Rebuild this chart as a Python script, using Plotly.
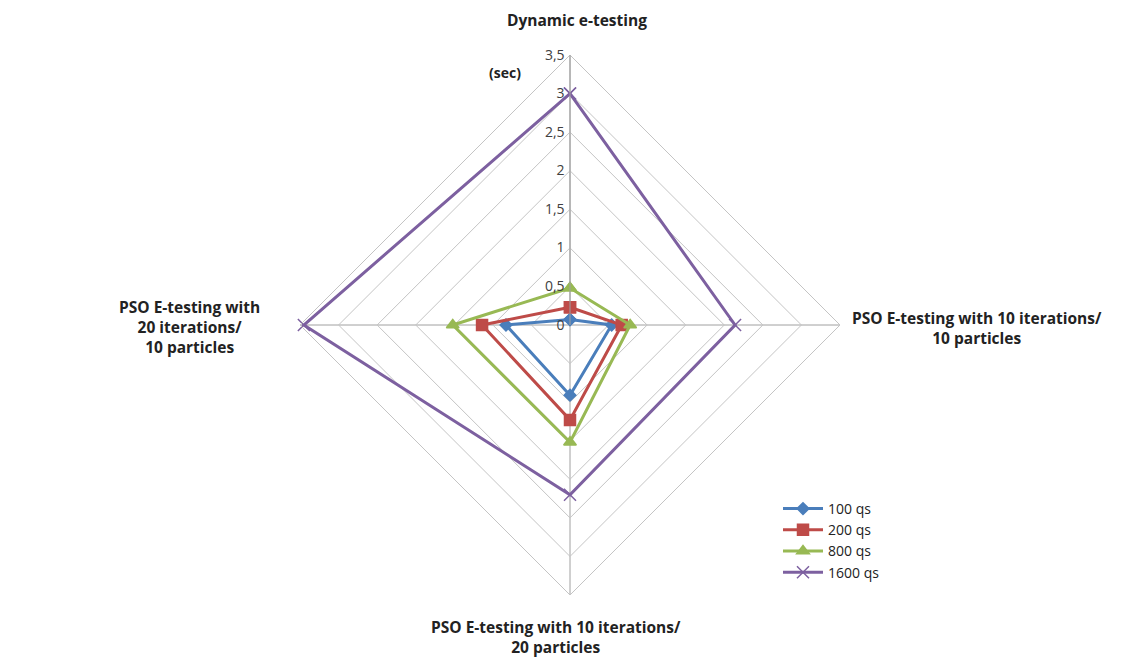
import plotly.graph_objects as go

categories = ["Dynamic e-testing", "PSO 10it/10p", "PSO 10it/20p", "PSO 20it/10p"]
series_names = ["100 qs", "200 qs", "800 qs", "1600 qs"]
v100 = [0.07, 0.54, 0.91, 0.83]
v200 = [0.23, 0.67, 1.23, 1.14]
v800 = [0.48, 0.78, 1.52, 1.52]
v1600 = [3.0, 2.14, 2.2, 3.45]
radial_ticks = [0, 0.5, 1, 1.5, 2, 2.5, 3, 3.5]

colors = ["#4a7ebb", "#be4b48", "#98b954", "#7d60a0"]
symbols = ["diamond", "square", "triangle-up", "x-thin"]
sizes = [9, 11, 11, 12]
values = [v100, v200, v800, v1600]

W, H, OFF = 1130, 651, 8  # page body margin of 8px


def px(x):
    return (x - OFF) / W


def py(y):
    return 1 - (y - OFF) / H


fig = go.Figure()
for name, vals, c, s, sz in zip(series_names, values, colors, symbols, sizes):
    fig.add_trace(go.Scatterpolar(
        r=vals + vals[:1], theta=categories + categories[:1],
        mode="lines+markers", name=name,
        line=dict(color=c, width=3),
        marker=dict(symbol=s, size=sz, color=c, line=dict(color=c, width=1.5)),
    ))

fig.update_layout(
    width=W, height=H,
    margin=dict(l=0, r=0, t=0, b=0),
    paper_bgcolor="white", plot_bgcolor="white",
    separators=", ",
    font=dict(family="Open Sans, DejaVu Sans, sans-serif", color="#222"),
    polar=dict(
        domain=dict(x=[px(300), px(840)], y=[py(595), py(55)]),
        bgcolor="white",
        gridshape="linear",
        radialaxis=dict(range=[0, 3.5], tickvals=radial_ticks, angle=90,
                        side="counterclockwise", tickangle=90,
                        showline=True, linecolor="#a0a0a0", linewidth=1,
                        gridcolor="#c4c4c4", gridwidth=1, ticks="",
                        tickfont=dict(size=14, color="#404040")),
        angularaxis=dict(rotation=90, direction="clockwise",
                         showticklabels=False, ticks="",
                         linecolor="#c4c4c4", gridcolor="#a0a0a0"),
    ),
    legend=dict(x=px(778), y=py(493), xanchor="left", yanchor="top",
                font=dict(size=14, color="#222"), bgcolor="rgba(0,0,0,0)",
                itemwidth=40),
    showlegend=True,
)

ann = [
    dict(text="<b>Dynamic e-testing</b>", x=577, y=20, xanchor="center"),
    dict(text="<b>(sec)</b>", x=505, y=73, xanchor="center", size=14),
    dict(text="<b>PSO E-testing with 10 iterations/<br>10 particles</b>", x=977, y=328, xanchor="center"),
    dict(text="<b>PSO E-testing with<br>20 iterations/<br>10 particles</b>", x=189, y=327, xanchor="center"),
    dict(text="<b>PSO E-testing with 10 iterations/<br>20 particles</b>", x=556, y=637, xanchor="center"),
]
for a in ann:
    fig.add_annotation(text=a["text"], x=px(a["x"]), y=py(a["y"]), xref="paper", yref="paper",
                       xanchor=a["xanchor"], yanchor="middle", showarrow=False,
                       align="center",
                       font=dict(size=a.get("size", 15.5), color="#222"))

fig.write_html("out.html")
